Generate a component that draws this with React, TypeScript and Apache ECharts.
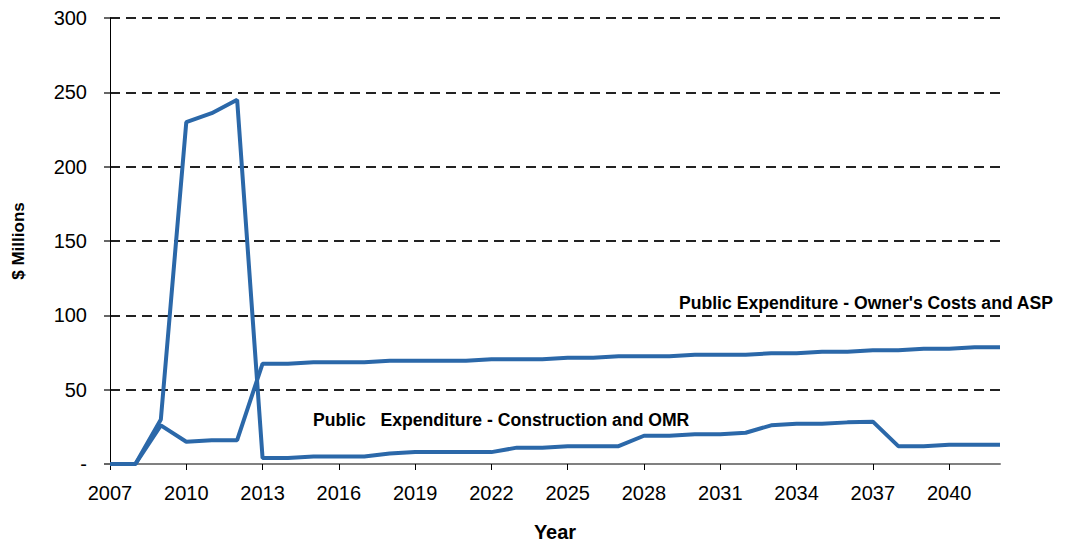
import React, { useEffect, useRef } from "react";
import * as echarts from "echarts";

const years: string[] = [];
for (let y = 2007; y <= 2042; y++) years.push(String(y));

const constructionOMR = [
  0, 0, 30, 230, 236, 245, 4, 4, 5, 5, 5, 7, 8, 8, 8, 8, 11, 11, 12, 12, 12, 19, 19, 20, 20, 21, 26, 27, 27,
  28, 28.5, 12, 12, 13, 13, 13,
];
const ownersCostsASP = [
  0, 0, 26, 15, 16, 16, 67.5, 67.5, 68.5, 68.5, 68.5, 69.5, 69.5, 69.5, 69.5, 70.5, 70.5, 70.5, 71.5, 71.5,
  72.5, 72.5, 72.5, 73.5, 73.5, 73.5, 74.5, 74.5, 75.5, 75.5, 76.5, 76.5, 77.5, 77.5, 78.5, 78.5,
];

export default function App() {
  const ref = useRef<HTMLDivElement>(null);
  useEffect(() => {
    if (!ref.current) return;
    const chart = echarts.init(ref.current, undefined, { renderer: "svg" });
    const font = "'Liberation Sans', Arial, sans-serif";
    const blue = "#2b68a9";
    chart.setOption({
      animation: false,
      grid: { left: 110, right: 65, top: 18, bottom: 80, containLabel: false, outerBoundsMode: "none" },
      xAxis: {
        type: "category",
        data: years,
        boundaryGap: false,
        name: "Year",
        nameLocation: "middle",
        nameGap: 58,
        nameTextStyle: { fontFamily: font, fontSize: 20, fontWeight: "bold", color: "#000" },
        axisLine: { lineStyle: { color: "#808080", width: 2 } },
        axisTick: { interval: 2, length: 6, lineStyle: { color: "#000" } },
        axisLabel: { interval: 2, fontFamily: font, fontSize: 20, color: "#000", margin: 19 },
        splitLine: { show: false },
      },
      yAxis: {
        type: "value",
        min: 0,
        max: 300,
        interval: 50,
        name: "$ Millions",
        nameLocation: "middle",
        nameGap: 83,
        nameTextStyle: { fontFamily: font, fontSize: 17, fontWeight: "bold", color: "#000" },
        axisLine: { show: true, lineStyle: { color: "#000", width: 1 } },
        axisTick: { show: true, length: 6, lineStyle: { color: "#666", width: 2 } },
        axisLabel: {
          fontFamily: font,
          fontSize: 20,
          color: "#000",
          margin: 23,
          formatter: (v: number) => (v === 0 ? "-" : String(v)),
        },
        splitLine: {
          show: true,
          lineStyle: { color: "#222", width: 2, type: [10, 6] },
        },
      },
      series: [
        {
          name: "Public Expenditure - Construction and OMR",
          type: "line",
          data: constructionOMR,
          symbol: "none",
          lineStyle: { color: blue, width: 4 },
          itemStyle: { color: blue },
        },
        {
          name: "Public Expenditure - Owner's Costs and ASP",
          type: "line",
          data: ownersCostsASP,
          symbol: "none",
          lineStyle: { color: blue, width: 4 },
          itemStyle: { color: blue },
        },
      ],
      graphic: [
        {
          type: "text",
          left: 679,
          top: 294,
          style: {
            text: "Public Expenditure - Owner's Costs and ASP",
            font: `bold 17.6px ${font}`,
            fill: "#000",
          },
        },
        {
          type: "text",
          left: 313,
          top: 411,
          style: {
            text: "Public   Expenditure - Construction and OMR",
            font: `bold 17.6px ${font}`,
            fill: "#000",
          },
        },
      ],
    });
    return () => chart.dispose();
  }, []);
  return (
    <div
      ref={ref}
      style={{ position: "absolute", left: 0, top: 0, width: 1065, height: 544, overflow: "hidden" }}
    />
  );
}
